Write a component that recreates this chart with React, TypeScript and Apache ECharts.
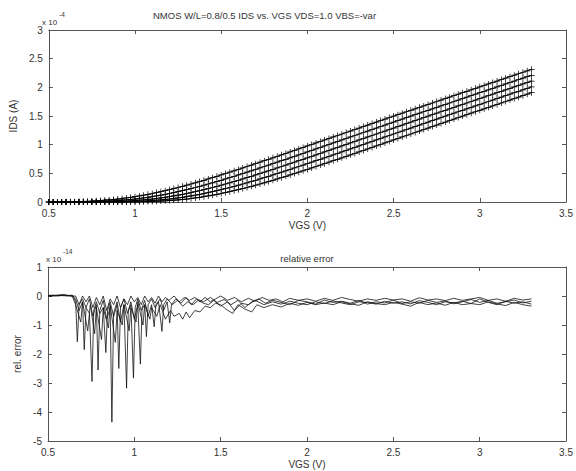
import React, { useEffect, useRef } from "react";
import * as echarts from "echarts";

// Gate voltage sweep (V)
const VGS = [
  0.5, 0.525, 0.55, 0.575, 0.6, 0.625, 0.65, 0.675, 0.7, 0.725,
  0.75, 0.775, 0.8, 0.825, 0.85, 0.875, 0.9, 0.925, 0.95, 0.975,
  1.0, 1.025, 1.05, 1.075, 1.1, 1.125, 1.15, 1.175, 1.2, 1.225,
  1.25, 1.275, 1.3, 1.325, 1.35, 1.375, 1.4, 1.425, 1.45, 1.475,
  1.5, 1.525, 1.55, 1.575, 1.6, 1.625, 1.65, 1.675, 1.7, 1.725,
  1.75, 1.775, 1.8, 1.825, 1.85, 1.875, 1.9, 1.925, 1.95, 1.975,
  2.0, 2.025, 2.05, 2.075, 2.1, 2.125, 2.15, 2.175, 2.2, 2.225,
  2.25, 2.275, 2.3, 2.325, 2.35, 2.375, 2.4, 2.425, 2.45, 2.475,
  2.5, 2.525, 2.55, 2.575, 2.6, 2.625, 2.65, 2.675, 2.7, 2.725,
  2.75, 2.775, 2.8, 2.825, 2.85, 2.875, 2.9, 2.925, 2.95, 2.975,
  3.0, 3.025, 3.05, 3.075, 3.1, 3.125, 3.15, 3.175, 3.2, 3.225,
  3.25, 3.275, 3.3,
];

// IDS in units of 1e-4 A, one curve per VBS value (top to bottom)
const IDS_1 = [
  0, 0, 0.001, 0.002, 0.003, 0.004, 0.006, 0.008, 0.01, 0.013,
  0.016, 0.02, 0.025, 0.031, 0.037, 0.044, 0.052, 0.061, 0.071, 0.082,
  0.093, 0.106, 0.119, 0.133, 0.148, 0.164, 0.18, 0.197, 0.215, 0.234,
  0.253, 0.273, 0.293, 0.314, 0.335, 0.357, 0.379, 0.402, 0.425, 0.448,
  0.472, 0.496, 0.52, 0.544, 0.569, 0.594, 0.619, 0.644, 0.669, 0.694,
  0.72, 0.745, 0.771, 0.796, 0.822, 0.848, 0.874, 0.9, 0.926, 0.952,
  0.978, 1.004, 1.03, 1.056, 1.082, 1.108, 1.134, 1.16, 1.186, 1.212,
  1.238, 1.264, 1.29, 1.316, 1.342, 1.368, 1.394, 1.42, 1.446, 1.472,
  1.498, 1.523, 1.549, 1.574, 1.6, 1.625, 1.651, 1.676, 1.702, 1.727,
  1.753, 1.778, 1.804, 1.829, 1.855, 1.88, 1.906, 1.931, 1.957, 1.982,
  2.008, 2.033, 2.059, 2.084, 2.11, 2.135, 2.161, 2.186, 2.212, 2.237,
  2.263, 2.288, 2.314,
];
const IDS_2 = [
  0, 0, 0, 0, 0, 0, 0.001, 0.002, 0.003, 0.004,
  0.006, 0.008, 0.01, 0.013, 0.016, 0.02, 0.025, 0.031, 0.037, 0.044,
  0.052, 0.061, 0.071, 0.082, 0.093, 0.106, 0.119, 0.133, 0.148, 0.164,
  0.18, 0.197, 0.215, 0.234, 0.253, 0.273, 0.293, 0.314, 0.335, 0.357,
  0.379, 0.402, 0.425, 0.448, 0.472, 0.496, 0.52, 0.544, 0.569, 0.594,
  0.619, 0.644, 0.669, 0.694, 0.72, 0.745, 0.771, 0.796, 0.822, 0.848,
  0.874, 0.9, 0.926, 0.952, 0.978, 1.004, 1.03, 1.056, 1.082, 1.108,
  1.134, 1.16, 1.186, 1.212, 1.238, 1.264, 1.29, 1.316, 1.342, 1.368,
  1.394, 1.42, 1.446, 1.472, 1.498, 1.523, 1.549, 1.574, 1.6, 1.625,
  1.651, 1.676, 1.702, 1.727, 1.753, 1.778, 1.804, 1.829, 1.855, 1.88,
  1.906, 1.931, 1.957, 1.982, 2.008, 2.033, 2.059, 2.084, 2.11, 2.135,
  2.161, 2.186, 2.21,
];
const IDS_3 = [
  0, 0, 0, 0, 0, 0, 0, 0, 0, 0,
  0.001, 0.002, 0.003, 0.004, 0.006, 0.008, 0.01, 0.013, 0.016, 0.02,
  0.025, 0.031, 0.037, 0.044, 0.052, 0.061, 0.071, 0.082, 0.093, 0.106,
  0.119, 0.133, 0.148, 0.164, 0.18, 0.197, 0.215, 0.234, 0.253, 0.273,
  0.293, 0.314, 0.335, 0.357, 0.379, 0.402, 0.425, 0.448, 0.472, 0.496,
  0.52, 0.544, 0.569, 0.594, 0.619, 0.644, 0.669, 0.694, 0.72, 0.745,
  0.771, 0.796, 0.822, 0.848, 0.874, 0.9, 0.926, 0.952, 0.978, 1.004,
  1.03, 1.056, 1.082, 1.108, 1.134, 1.16, 1.186, 1.212, 1.238, 1.264,
  1.29, 1.316, 1.342, 1.368, 1.394, 1.42, 1.446, 1.472, 1.498, 1.523,
  1.549, 1.574, 1.6, 1.625, 1.651, 1.676, 1.702, 1.727, 1.753, 1.778,
  1.804, 1.829, 1.855, 1.88, 1.906, 1.931, 1.957, 1.982, 2.008, 2.033,
  2.059, 2.084, 2.11,
];
const IDS_4 = [
  0, 0, 0, 0, 0, 0, 0, 0, 0, 0,
  0, 0, 0, 0, 0.001, 0.002, 0.003, 0.004, 0.006, 0.008,
  0.01, 0.013, 0.016, 0.02, 0.025, 0.031, 0.037, 0.044, 0.052, 0.061,
  0.071, 0.082, 0.093, 0.106, 0.119, 0.133, 0.148, 0.164, 0.18, 0.197,
  0.215, 0.234, 0.253, 0.273, 0.293, 0.314, 0.335, 0.357, 0.379, 0.402,
  0.425, 0.448, 0.472, 0.496, 0.52, 0.544, 0.569, 0.594, 0.619, 0.644,
  0.669, 0.694, 0.72, 0.745, 0.771, 0.796, 0.822, 0.848, 0.874, 0.9,
  0.926, 0.952, 0.978, 1.004, 1.03, 1.056, 1.082, 1.108, 1.134, 1.16,
  1.186, 1.212, 1.238, 1.264, 1.29, 1.316, 1.342, 1.368, 1.394, 1.42,
  1.446, 1.472, 1.498, 1.523, 1.549, 1.574, 1.6, 1.625, 1.651, 1.676,
  1.702, 1.727, 1.753, 1.778, 1.804, 1.829, 1.855, 1.88, 1.906, 1.931,
  1.957, 1.982, 2.008,
];
const IDS_5 = [
  0, 0, 0, 0, 0, 0, 0, 0, 0, 0,
  0, 0, 0, 0, 0, 0, 0, 0, 0.001, 0.002,
  0.003, 0.004, 0.006, 0.008, 0.01, 0.013, 0.016, 0.02, 0.025, 0.031,
  0.037, 0.044, 0.052, 0.061, 0.071, 0.082, 0.093, 0.106, 0.119, 0.133,
  0.148, 0.164, 0.18, 0.197, 0.215, 0.234, 0.253, 0.273, 0.293, 0.314,
  0.335, 0.357, 0.379, 0.402, 0.425, 0.448, 0.472, 0.496, 0.52, 0.544,
  0.569, 0.594, 0.619, 0.644, 0.669, 0.694, 0.72, 0.745, 0.771, 0.796,
  0.822, 0.848, 0.874, 0.9, 0.926, 0.952, 0.978, 1.004, 1.03, 1.056,
  1.082, 1.108, 1.134, 1.16, 1.186, 1.212, 1.238, 1.264, 1.29, 1.316,
  1.342, 1.368, 1.394, 1.42, 1.446, 1.472, 1.498, 1.523, 1.549, 1.574,
  1.6, 1.625, 1.651, 1.676, 1.702, 1.727, 1.753, 1.778, 1.804, 1.829,
  1.855, 1.88, 1.906,
];
const IDS_CURVES = [IDS_1, IDS_2, IDS_3, IDS_4, IDS_5];

// Relative error in units of 1e-14, [VGS, error] pairs
const ERR_1 = [
  [0.5, 0.02], [0.53, 0.03], [0.56, 0.01], [0.59, 0.04], [0.62, 0.02], [0.645, 0.0],
  [0.66, -0.2], [0.67, -1.58], [0.68, -0.3], [0.7, -0.1], [0.72, -0.4], [0.74, -0.6],
  [0.755, -2.95], [0.765, -0.5], [0.78, -0.2], [0.8, -0.6], [0.82, -0.4], [0.835, -1.95],
  [0.845, -0.5], [0.86, -0.2], [0.88, -0.7], [0.9, -0.3], [0.91, -2.5], [0.92, -0.4],
  [0.94, -0.1], [0.96, -0.6], [0.98, -0.3], [0.995, -2.83], [1.005, -0.4], [1.02, -0.1],
  [1.04, -0.5], [1.06, -0.3], [1.07, -1.4], [1.08, -0.3], [1.1, -0.1], [1.12, -0.4],
  [1.14, -0.2], [1.16, -1.22], [1.17, -0.3], [1.19, -0.1], [1.22, -0.3], [1.25, -0.15],
  [1.28, -0.35], [1.31, -0.2], [1.34, -0.3], [1.37, -0.15], [1.4, -0.25], [1.43, -0.3],
  [1.46, -0.15], [1.5, -0.35], [1.54, -0.2], [1.58, -0.5], [1.62, -0.25], [1.66, -0.3],
  [1.7, -0.15], [1.75, -0.3], [1.8, -0.2], [1.85, -0.28], [1.9, -0.18], [1.95, -0.25],
  [2.0, -0.3], [2.05, -0.2], [2.1, -0.26], [2.15, -0.17], [2.2, -0.24], [2.25, -0.3],
  [2.3, -0.2], [2.35, -0.22], [2.4, -0.28], [2.45, -0.18], [2.5, -0.25], [2.55, -0.2],
  [2.6, -0.27], [2.65, -0.16], [2.7, -0.22], [2.75, -0.3], [2.8, -0.2], [2.85, -0.24],
  [2.9, -0.18], [2.95, -0.26], [3.0, -0.1], [3.05, -0.22], [3.1, -0.3], [3.15, -0.18],
  [3.2, -0.25], [3.25, -0.2], [3.3, -0.28],
];
const ERR_2 = [
  [0.5, 0.0], [0.54, 0.02], [0.58, 0.05], [0.61, 0.01], [0.64, 0.03], [0.66, -0.1],
  [0.68, -0.5], [0.7, -0.2], [0.71, -1.85], [0.72, -0.4], [0.74, -0.1], [0.76, -0.7],
  [0.78, -0.3], [0.79, -2.55], [0.8, -0.5], [0.82, -0.15], [0.84, -0.8], [0.86, -0.4],
  [0.87, -4.35], [0.88, -0.6], [0.9, -0.2], [0.92, -0.9], [0.94, -0.3], [0.955, -3.18],
  [0.965, -0.5], [0.98, -0.2], [1.0, -0.8], [1.02, -0.3], [1.035, -2.35], [1.045, -0.4],
  [1.06, -0.15], [1.08, -0.7], [1.1, -0.3], [1.115, -1.06], [1.125, -0.3], [1.15, -0.1],
  [1.17, -0.5], [1.19, -0.2], [1.205, -0.93], [1.215, -0.3], [1.24, -0.1], [1.27, -0.25],
  [1.3, -0.05], [1.33, -0.3], [1.36, -0.1], [1.4, -0.2], [1.44, -0.05], [1.48, -0.22],
  [1.52, -0.12], [1.56, -0.3], [1.6, -0.15], [1.64, -0.4], [1.68, -0.2], [1.72, -0.1],
  [1.76, -0.25], [1.8, -0.15], [1.85, -0.22], [1.9, -0.3], [1.95, -0.15], [2.0, -0.2],
  [2.05, -0.28], [2.1, -0.14], [2.15, -0.22], [2.2, -0.18], [2.25, -0.25], [2.3, -0.15],
  [2.35, -0.28], [2.4, -0.2], [2.45, -0.24], [2.5, -0.14], [2.55, -0.26], [2.6, -0.2],
  [2.65, -0.25], [2.7, -0.15], [2.75, -0.22], [2.8, -0.17], [2.85, -0.27], [2.9, -0.2],
  [2.95, -0.12], [3.0, -0.22], [3.05, -0.15], [3.1, -0.25], [3.15, -0.2], [3.2, -0.14],
  [3.25, -0.24], [3.3, -0.18],
];
const ERR_3 = [
  [0.5, 0.01], [0.55, 0.0], [0.6, 0.03], [0.64, 0.0], [0.66, -0.3], [0.69, -0.9],
  [0.7, -0.2], [0.73, -1.2], [0.745, -0.3], [0.77, -1.3], [0.78, -0.4], [0.81, -1.5],
  [0.82, -0.4], [0.85, -1.1], [0.86, -0.3], [0.89, -1.6], [0.9, -0.5], [0.93, -1.0],
  [0.94, -0.3], [0.97, -1.2], [0.98, -0.4], [1.01, -0.9], [1.02, -0.2], [1.05, -1.0],
  [1.06, -0.3], [1.09, -0.8], [1.1, -0.4], [1.13, -0.7], [1.15, -0.3], [1.18, -0.8],
  [1.21, -0.5], [1.23, -0.7], [1.26, -0.6], [1.28, -0.8], [1.3, -0.55], [1.32, -0.75],
  [1.35, -0.5], [1.38, -0.55], [1.41, -0.35], [1.44, -0.4], [1.47, -0.25], [1.5, -0.3],
  [1.53, -0.45], [1.57, -0.6], [1.6, -0.3], [1.64, -0.45], [1.68, -0.55], [1.71, -0.3],
  [1.75, -0.4], [1.8, -0.3], [1.85, -0.38], [1.9, -0.25], [1.95, -0.32], [2.0, -0.22],
  [2.05, -0.3], [2.1, -0.24], [2.15, -0.3], [2.2, -0.2], [2.25, -0.27], [2.3, -0.32],
  [2.35, -0.2], [2.4, -0.26], [2.45, -0.3], [2.5, -0.22], [2.55, -0.28], [2.6, -0.35],
  [2.65, -0.22], [2.7, -0.3], [2.75, -0.24], [2.8, -0.32], [2.85, -0.22], [2.9, -0.3],
  [2.95, -0.26], [3.0, -0.3], [3.05, -0.2], [3.1, -0.27], [3.15, -0.33], [3.2, -0.22],
  [3.25, -0.3], [3.3, -0.35],
];
const ERR_4 = [
  [0.5, 0.0], [0.56, 0.02], [0.62, 0.0], [0.66, 0.0], [0.68, -0.3], [0.7, 0.0],
  [0.72, -0.2], [0.74, 0.0], [0.76, -0.4], [0.78, -0.05], [0.8, -0.3], [0.82, 0.0],
  [0.84, -0.5], [0.86, -0.1], [0.88, -0.3], [0.9, 0.0], [0.92, -0.4], [0.94, -0.1],
  [0.96, -0.3], [0.98, 0.0], [1.0, -0.2], [1.02, -0.05], [1.04, -0.3], [1.06, 0.0],
  [1.08, -0.2], [1.1, -0.05], [1.12, -0.25], [1.14, 0.0], [1.16, -0.2], [1.18, -0.05],
  [1.2, -0.15], [1.23, 0.0], [1.26, -0.2], [1.29, -0.05], [1.32, -0.15], [1.35, -0.05],
  [1.38, -0.2], [1.41, -0.05], [1.44, -0.2], [1.47, -0.1], [1.5, 0.0], [1.54, -0.15],
  [1.58, -0.05], [1.62, -0.2], [1.66, -0.08], [1.7, -0.18], [1.74, -0.05], [1.78, -0.15],
  [1.82, -0.1], [1.86, -0.2], [1.9, -0.08], [1.95, -0.15], [2.0, -0.1], [2.05, -0.18],
  [2.1, -0.08], [2.15, -0.15], [2.2, -0.05], [2.25, -0.12], [2.3, -0.18], [2.35, -0.1],
  [2.4, -0.15], [2.45, -0.08], [2.5, -0.14], [2.55, -0.1], [2.6, -0.18], [2.65, -0.06],
  [2.7, -0.14], [2.75, -0.1], [2.8, -0.16], [2.85, -0.08], [2.9, -0.15], [2.95, -0.1],
  [3.0, -0.05], [3.05, -0.15], [3.1, -0.1], [3.15, -0.18], [3.2, -0.08], [3.25, -0.14],
  [3.3, -0.1],
];
const ERR_CURVES = [ERR_1, ERR_2, ERR_3, ERR_4];

const FONT = "Liberation Sans, Arial, Helvetica, sans-serif";
const AXIS_COLOR = "#555";
const TEXT_COLOR = "#333";
const PLUS = "path://M0 4.4H10V5.6H0ZM4.4 0H5.6V10H4.4Z";

function xAxisDef(gridIndex: number, position: "bottom" | "top", name?: string) {
  const main = position === "bottom";
  return {
    type: "value",
    gridIndex,
    position,
    min: 0.5,
    max: 3.5,
    interval: 0.5,
    name: main ? name : undefined,
    nameLocation: "middle",
    nameGap: 18,
    nameTextStyle: { color: TEXT_COLOR, fontSize: 10, fontFamily: FONT },
    axisLine: { show: true, onZero: false, lineStyle: { color: AXIS_COLOR, width: 1 } },
    axisTick: { show: true, inside: true, length: 4, lineStyle: { color: AXIS_COLOR } },
    axisLabel: { show: main, margin: 6, color: TEXT_COLOR, fontSize: 10, fontFamily: FONT },
    splitLine: { show: false },
  };
}

function yAxisDef(
  gridIndex: number,
  position: "left" | "right",
  min: number,
  max: number,
  interval: number,
  name?: string
) {
  const main = position === "left";
  return {
    type: "value",
    gridIndex,
    position,
    min,
    max,
    interval,
    name: main ? name : undefined,
    nameLocation: "middle",
    nameGap: 24,
    nameRotate: 90,
    nameTextStyle: { color: TEXT_COLOR, fontSize: 10, fontFamily: FONT },
    axisLine: { show: true, onZero: false, lineStyle: { color: AXIS_COLOR, width: 1 } },
    axisTick: { show: true, inside: true, length: 4, lineStyle: { color: AXIS_COLOR } },
    axisLabel: { show: main, margin: 6, color: TEXT_COLOR, fontSize: 10, fontFamily: FONT },
    splitLine: { show: false },
  };
}

export default function App() {
  const ref = useRef<HTMLDivElement>(null);

  useEffect(() => {
    document.body.style.margin = "0";
    if (!ref.current) return;
    const chart = echarts.init(ref.current, undefined, { renderer: "svg" });

    const topSeries = IDS_CURVES.map((curve, k) => ({
      type: "line",
      name: "IDS " + (k + 1),
      xAxisIndex: 0,
      yAxisIndex: 0,
      data: VGS.map((v, i) => [v, curve[i]]),
      symbol: PLUS,
      symbolSize: 6,
      showAllSymbol: true,
      lineStyle: { color: "#000", width: 1 },
      itemStyle: { color: "#000" },
      silent: true,
    }));

    const bottomSeries = ERR_CURVES.map((curve, k) => ({
      type: "line",
      name: "err " + (k + 1),
      xAxisIndex: 2,
      yAxisIndex: 2,
      data: curve,
      symbol: "none",
      lineStyle: { color: "#111", width: 0.8 },
      silent: true,
    }));

    chart.setOption({
      animation: false,
      backgroundColor: "#fff",
      grid: [
        { left: 48, right: 10, top: 30, height: 172 },
        { left: 48, right: 10, top: 267, height: 174 },
      ],
      xAxis: [
        xAxisDef(0, "bottom", "VGS (V)"),
        xAxisDef(0, "top"),
        xAxisDef(1, "bottom", "VGS (V)"),
        xAxisDef(1, "top"),
      ],
      yAxis: [
        yAxisDef(0, "left", 0, 3, 0.5, "IDS (A)"),
        yAxisDef(0, "right", 0, 3, 0.5),
        yAxisDef(1, "left", -5, 1, 1, "rel. error"),
        yAxisDef(1, "right", -5, 1, 1),
      ],
      series: [...topSeries, ...bottomSeries],
      graphic: [
        {
          type: "text",
          x: 153,
          y: 15,
          style: {
            text: "NMOS W/L=0.8/0.5 IDS vs. VGS VDS=1.0 VBS=-var",
            fill: TEXT_COLOR,
            font: "9.5px " + FONT,
            verticalAlign: "middle",
          },
        },
        {
          type: "text",
          x: 307,
          y: 258,
          style: {
            text: "relative error",
            fill: TEXT_COLOR,
            font: "9.5px " + FONT,
            align: "center",
            verticalAlign: "middle",
          },
        },
        {
          type: "text",
          x: 42,
          y: 22,
          style: { text: "x 10", fill: TEXT_COLOR, font: "8px " + FONT, verticalAlign: "middle" },
        },
        {
          type: "text",
          x: 59,
          y: 14,
          style: { text: "-4", fill: TEXT_COLOR, font: "6.5px " + FONT, verticalAlign: "middle" },
        },
        {
          type: "text",
          x: 46,
          y: 259,
          style: { text: "x 10", fill: TEXT_COLOR, font: "8px " + FONT, verticalAlign: "middle" },
        },
        {
          type: "text",
          x: 63,
          y: 251,
          style: { text: "-14", fill: TEXT_COLOR, font: "6.5px " + FONT, verticalAlign: "middle" },
        },
      ],
    });

    return () => {
      chart.dispose();
    };
  }, []);

  return <div ref={ref} style={{ width: 576, height: 471 }} />;
}
